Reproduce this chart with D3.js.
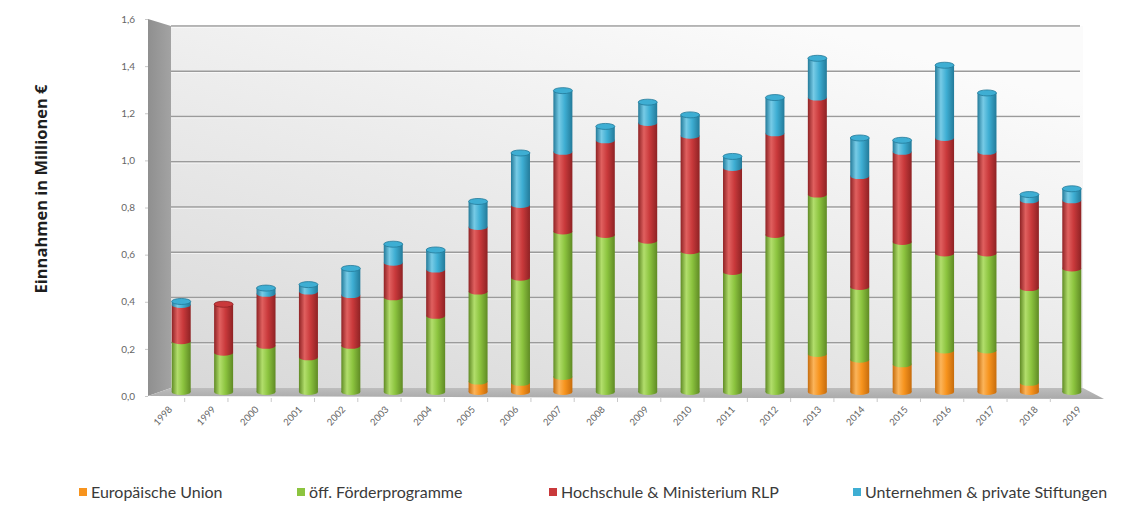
<!DOCTYPE html>
<html>
<head>
<meta charset="utf-8">
<script src="https://cdn.jsdelivr.net/npm/d3@7"></script>
<style>
  html, body { margin: 0; padding: 0; background: #fff; }
  svg { display: block; }
  text { font-family: Lato, "Open Sans", sans-serif; }
</style>
</head>
<body>
<svg id="chart" width="1144" height="505"></svg>
<script>
// Einnahmen je Jahr (Mio. €), gestapelt nach Herkunft
const years = ["1998","1999","2000","2001","2002","2003","2004","2005","2006","2007","2008",
               "2009","2010","2011","2012","2013","2014","2015","2016","2017","2018","2019"];
const europaeischeUnion = [0,0,0,0,0,0,0,0.045,0.04,0.065,0,0,0,0,0,0.165,0.14,0.12,0.18,0.18,0.04,0];
const foerderprogramme  = [0.22,0.17,0.20,0.15,0.20,0.41,0.33,0.39,0.455,0.63,0.68,0.655,0.61,0.52,0.68,0.69,0.315,0.53,0.42,0.42,0.41,0.535];
const hochschuleRLP     = [0.157,0.21,0.225,0.285,0.22,0.15,0.20,0.28,0.315,0.345,0.41,0.51,0.50,0.45,0.44,0.42,0.48,0.39,0.50,0.44,0.38,0.295];
const unternehmen       = [0.015,0,0.025,0.03,0.115,0.08,0.085,0.11,0.225,0.265,0.06,0.09,0.09,0.05,0.155,0.17,0.165,0.05,0.315,0.255,0.025,0.05];
const seriesNames = ["Europäische Union","öff. Förderprogramme","Hochschule & Ministerium RLP","Unternehmen & private Stiftungen"];
const yTicks = [0,0.2,0.4,0.6,0.8,1.0,1.2,1.4,1.6];

const seriesKeys = ["eu","foerder","hochschule","unternehmen"];
const colors = {
  eu:          {base:"#f7941e", light:"#fbb45a", dark:"#c76c0c"},
  foerder:     {base:"#8cc43f", light:"#b2de6c", dark:"#5f8a24"},
  hochschule:  {base:"#c9393b", light:"#e0605f", dark:"#8e2224"},
  unternehmen: {base:"#3eaed3", light:"#77cbe6", dark:"#237a99"}
};

const rows = years.map((y, i) => ({
  year: y,
  eu: europaeischeUnion[i],
  foerder: foerderprogramme[i],
  hochschule: hochschuleRLP[i],
  unternehmen: unternehmen[i]
}));

const svg = d3.select("#chart");
const defs = svg.append("defs");

// Raumgeometrie (perspektivisch: Rückwand, Seitenwand, Boden)
const back  = {x0: 171, x1: 1083, y0: 388, y1: 26};
const front = {x0: 148, x1: 1104, y0: 397, y1: 19};
const mid   = {x0: 160, x1: 1093, y0: 392, y1: 22.5};

const yBack  = d3.scaleLinear().domain([0, 1.6]).range([back.y0, back.y1]);
const yFront = d3.scaleLinear().domain([0, 1.6]).range([396, 19]);
const yMid   = d3.scaleLinear().domain([0, 1.6]).range([mid.y0, mid.y1]);

const xBar = d3.scaleBand().domain(years).range([mid.x0, mid.x1]);
const xLabel = d3.scaleBand().domain(years).range([141.4, 1093.6]);

// Verläufe
const wallGrad = defs.append("linearGradient").attr("id","wallGrad")
  .attr("x1","0").attr("y1","1").attr("x2","0.7").attr("y2","0");
wallGrad.append("stop").attr("offset","0").attr("stop-color","#d8d8d8");
wallGrad.append("stop").attr("offset","0.55").attr("stop-color","#ebebeb");
wallGrad.append("stop").attr("offset","1").attr("stop-color","#fbfbfb");

const sideGrad = defs.append("linearGradient").attr("id","sideGrad")
  .attr("x1","0").attr("y1","0").attr("x2","1").attr("y2","0");
sideGrad.append("stop").attr("offset","0").attr("stop-color","#8f8f8f");
sideGrad.append("stop").attr("offset","1").attr("stop-color","#a3a3a3");

const floorGrad = defs.append("linearGradient").attr("id","floorGrad")
  .attr("x1","0").attr("y1","0").attr("x2","0").attr("y2","1");
floorGrad.append("stop").attr("offset","0").attr("stop-color","#bdbdbd");
floorGrad.append("stop").attr("offset","1").attr("stop-color","#a9a9a9");

seriesKeys.forEach(k => {
  const c = colors[k];
  const g = defs.append("linearGradient").attr("id","cyl-" + k)
    .attr("x1","0").attr("y1","0").attr("x2","1").attr("y2","0");
  g.append("stop").attr("offset","0").attr("stop-color", c.dark);
  g.append("stop").attr("offset","0.3").attr("stop-color", c.light);
  g.append("stop").attr("offset","0.6").attr("stop-color", c.base);
  g.append("stop").attr("offset","1").attr("stop-color", c.dark);
});

// Rückwand
svg.append("polygon")
  .attr("points", [[back.x0, back.y1],[back.x1, back.y1],[back.x1, back.y0],[back.x0, back.y0]].join(" "))
  .attr("fill","url(#wallGrad)");

// Seitenwand links
svg.append("polygon")
  .attr("points", [[front.x0, front.y1],[back.x0, back.y1],[back.x0, back.y0],[front.x0, 396]].join(" "))
  .attr("fill","url(#sideGrad)");

// Boden
svg.append("polygon")
  .attr("points", [[back.x0, back.y0],[back.x1, back.y0],[front.x1, front.y0 + 2],[front.x0, 396]].join(" "))
  .attr("fill","url(#floorGrad)");

// Gitterlinien auf der Rückwand
svg.append("g").selectAll("line").data(yTicks.slice(1)).join("line")
  .attr("x1", back.x0).attr("x2", back.x1 - 3)
  .attr("y1", d => yBack(d)).attr("y2", d => yBack(d))
  .attr("stroke","#9b9b9b").attr("stroke-width",1.3);
svg.append("g").selectAll("line").data(yTicks.slice(1)).join("line")
  .attr("x1", back.x0).attr("x2", back.x1 - 3)
  .attr("y1", d => yBack(d) + 1.3).attr("y2", d => yBack(d) + 1.3)
  .attr("stroke","#ffffff").attr("stroke-opacity",0.6).attr("stroke-width",1);

// Y-Achse (vorne)
const yAxis = d3.axisLeft(yFront).tickValues(yTicks).tickSize(3).tickPadding(10)
  .tickFormat(d => d3.format(".1f")(d).replace(".", ","));
const yAxisG = svg.append("g").attr("transform", `translate(${front.x0},0)`).call(yAxis);
yAxisG.select(".domain").remove();
yAxisG.selectAll(".tick line").attr("stroke","#c8c8c8");
yAxisG.selectAll(".tick text").attr("fill","#666").attr("font-size", 10);

// X-Achse: Kategorienbeschriftungen
const xAxisG = svg.append("g").attr("transform", "translate(0,399)")
  .call(d3.axisBottom(xLabel).tickSize(0).tickPadding(0));
xAxisG.select(".domain").remove();
xAxisG.selectAll(".tick text")
  .attr("fill","#666").attr("font-size", 9.5)
  .attr("text-anchor","middle")
  .attr("transform","translate(0,17) rotate(-47)")
  .attr("y", 0).attr("dy","0.32em");

// kleine Teilstriche unter der Bodenkante
svg.append("g").selectAll("line").data(years.slice(1)).join("line")
  .attr("x1", d => xLabel(d)).attr("x2", d => xLabel(d))
  .attr("y1", 398).attr("y2", 402)
  .attr("stroke","#c9c9c9").attr("stroke-width",1);

// Gestapelte Zylinder
const stack = d3.stack().keys(seriesKeys)(rows);
const barW = 19;
const capRy = 3;
const barsG = svg.append("g");

stack.forEach(layer => {
  const key = layer.key;
  barsG.append("g").selectAll("rect").data(layer.filter(d => d[1] - d[0] > 0)).join("rect")
    .attr("x", d => xBar(d.data.year) + xBar.bandwidth() / 2 - barW / 2)
    .attr("width", barW)
    .attr("y", d => yMid(d[1]))
    .attr("height", d => yMid(d[0]) - yMid(d[1]))
    .attr("fill", `url(#cyl-${key})`);
  // untere Rundung des Segments
  barsG.append("g").selectAll("ellipse").data(layer.filter(d => d[1] - d[0] > 0)).join("ellipse")
    .attr("cx", d => xBar(d.data.year) + xBar.bandwidth() / 2)
    .attr("cy", d => yMid(d[0]))
    .attr("rx", barW / 2).attr("ry", capRy)
    .attr("fill", `url(#cyl-${key})`);
});

// Deckel der Zylinder
const topKey = rows.map(r => {
  for (let i = seriesKeys.length - 1; i >= 0; i--) if (r[seriesKeys[i]] > 0) return seriesKeys[i];
  return seriesKeys[0];
});
const totals = rows.map(r => seriesKeys.reduce((s, k) => s + r[k], 0));
barsG.append("g").selectAll("ellipse").data(rows).join("ellipse")
  .attr("cx", d => xBar(d.year) + xBar.bandwidth() / 2)
  .attr("cy", (d, i) => yMid(totals[i]))
  .attr("rx", barW / 2).attr("ry", capRy)
  .attr("fill", (d, i) => colors[topKey[i]].base)
  .attr("stroke", (d, i) => colors[topKey[i]].dark)
  .attr("stroke-width", 0.8);

// Achsentitel
svg.append("text")
  .attr("transform", "translate(41,189) rotate(-90)")
  .attr("text-anchor","middle")
  .attr("dy","0.35em")
  .style("font-family", "'Open Sans', sans-serif")
  .attr("font-size", 16.5).attr("font-weight", "bold").attr("fill","#1e1e1e")
  .text("Einnahmen in Millionen €");

// Legende
const legendX = [79, 297, 549, 853];
const legend = svg.append("g").selectAll("g").data(seriesKeys).join("g")
  .attr("transform", (d, i) => `translate(${legendX[i]},488)`);
legend.append("rect").attr("width", 8).attr("height", 8).attr("fill", d => colors[d].base);
legend.append("text").attr("x", 12).attr("y", 4).attr("dy", "0.35em")
  .attr("font-size", 16).attr("fill","#3a3a3a")
  .text((d, i) => seriesNames[i]);
</script>
</body>
</html>
